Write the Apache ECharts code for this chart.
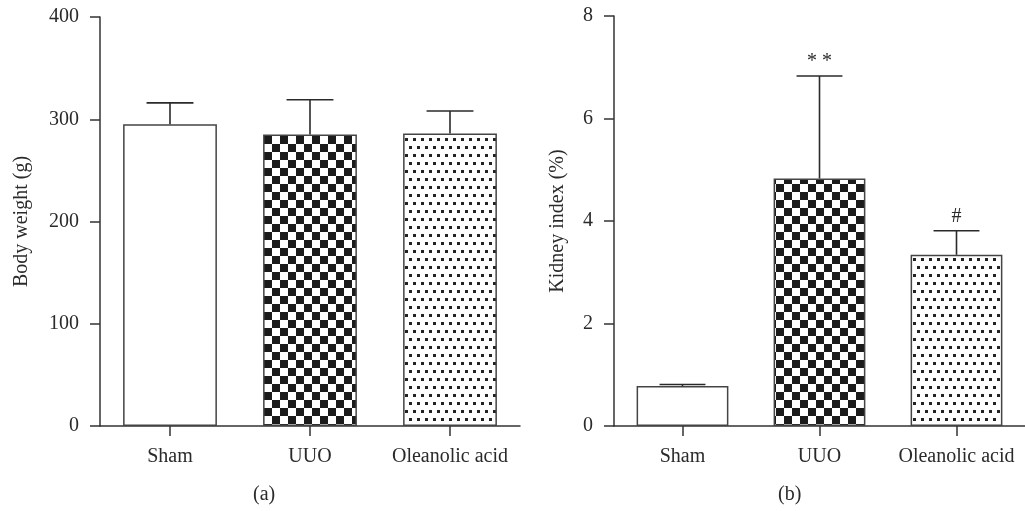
<!DOCTYPE html>
<html>
<head>
<meta charset="utf-8">
<script src="https://cdn.jsdelivr.net/npm/echarts@6/dist/echarts.min.js"></script>
<style>
html,body{margin:0;padding:0;background:#fff;}
#c{width:1025px;height:511px;}
</style>
</head>
<body>
<div id="c"></div>
<script>
// ---- data ----
const categories = ['Sham', 'UUO', 'Oleanolic acid'];
const bodyWeightMean = [295, 285, 286];
const bodyWeightSD = [21, 34, 22];
const bodyWeightMarks = ['', '', ''];
const kidneyIndexMean = [0.78, 4.83, 3.34];
const kidneyIndexSD = [0.03, 2.0, 0.47];
const kidneyIndexMarks = ['', '* *', '#'];
const bodyTicks = { min: 0, max: 400, interval: 100 };
const kidneyTicks = { min: 0, max: 8, interval: 2 };

// ---- patterns ----
function checker() {
  const c = document.createElement('canvas');
  c.width = 16; c.height = 16;
  const g = c.getContext('2d');
  g.fillStyle = '#fff'; g.fillRect(0, 0, 16, 16);
  g.fillStyle = '#1b1b1b';
  g.fillRect(0, 0, 8, 8); g.fillRect(8, 8, 8, 8);
  return c;
}
function dots() {
  const c = document.createElement('canvas');
  c.width = 8; c.height = 16;
  const g = c.getContext('2d');
  g.fillStyle = '#fff'; g.fillRect(0, 0, 8, 16);
  g.fillStyle = '#222';
  g.fillRect(1, 2, 3, 3); g.fillRect(5, 10, 3, 3);
  return c;
}
const fills = ['#ffffff', { image: checker(), repeat: 'repeat' }, { image: dots(), repeat: 'repeat' }];

const FONT = 'Liberation Serif';
const FS = 20;
const TXT = '#2a2a2a';

function errSeries(idx, mean, sd, marks) {
  return {
    type: 'custom', xAxisIndex: idx, yAxisIndex: idx, z: 5,
    data: categories.map((c, i) => [i, mean[i], sd[i]]),
    renderItem: function (params, api) {
      const x = api.value(0), m = api.value(1), s = api.value(2);
      const base = api.coord([x, m]);
      const top = api.coord([x, m + s]);
      const bw = api.size([1, 0])[0];
      const half = bw * 0.67 / 4;
      const st = { stroke: '#2a2a2a', lineWidth: 1.6 };
      const ch = [
        { type: 'line', shape: { x1: top[0], y1: base[1], x2: top[0], y2: top[1] }, style: st },
        { type: 'line', shape: { x1: top[0] - half, y1: top[1], x2: top[0] + half, y2: top[1] }, style: st }
      ];
      const t = marks[params.dataIndex];
      if (t) {
        ch.push({ type: 'text', style: { text: t, x: top[0], y: top[1] - 4, align: 'center', verticalAlign: 'bottom',
          font: '20px "' + FONT + '"', fill: TXT } });
      }
      return { type: 'group', children: ch };
    }
  };
}

function yAxis(idx, ticks, name, gap) {
  return {
    type: 'value', gridIndex: idx, min: ticks.min, max: ticks.max, interval: ticks.interval,
    name: name, nameLocation: 'middle', nameRotate: 90, nameGap: gap,
    nameTextStyle: { fontFamily: FONT, fontSize: FS, color: TXT },
    axisLine: { show: true, lineStyle: { color: '#333', width: 1.5 } },
    axisTick: { show: true, length: 10, lineStyle: { color: '#333', width: 1.5 } },
    axisLabel: { fontFamily: FONT, fontSize: FS, color: TXT, margin: 21 },
    splitLine: { show: false }
  };
}
function xAxis(idx) {
  return {
    type: 'category', gridIndex: idx, data: categories,
    axisLine: { show: true, lineStyle: { color: '#333', width: 1.5 } },
    axisTick: { show: true, alignWithLabel: true, length: 10, lineStyle: { color: '#333', width: 1.5 } },
    axisLabel: { fontFamily: FONT, fontSize: FS, color: TXT, margin: 21, interval: 0 }
  };
}
function barSeries(idx, mean) {
  return {
    type: 'bar', xAxisIndex: idx, yAxisIndex: idx, barWidth: '67%',
    data: mean.map((v, i) => ({ value: v, itemStyle: { color: fills[i] } })),
    itemStyle: { borderColor: '#444', borderWidth: 1.5 },
    emphasis: { disabled: true }
  };
}

const chart = echarts.init(document.getElementById('c'));
chart.setOption({
  animation: false,
  backgroundColor: '#fff',
  grid: [
    { left: 100, top: 17, width: 420, height: 409 },
    { left: 614, top: 16, width: 417, height: 410 }
  ],
  xAxis: [xAxis(0), xAxis(1)],
  yAxis: [yAxis(0, bodyTicks, 'Body weight (g)', 68), yAxis(1, kidneyTicks, 'Kidney index (%)', 46)],
  series: [
    barSeries(0, bodyWeightMean), errSeries(0, bodyWeightMean, bodyWeightSD, bodyWeightMarks),
    barSeries(1, kidneyIndexMean), errSeries(1, kidneyIndexMean, kidneyIndexSD, kidneyIndexMarks)
  ],
  graphic: [
    { type: 'text', left: 253, top: 485, style: { text: '(a)', font: FS + 'px "' + FONT + '"', fill: TXT } },
    { type: 'text', left: 778, top: 485, style: { text: '(b)', font: FS + 'px "' + FONT + '"', fill: TXT } }
  ]
});
</script>
</body>
</html>
